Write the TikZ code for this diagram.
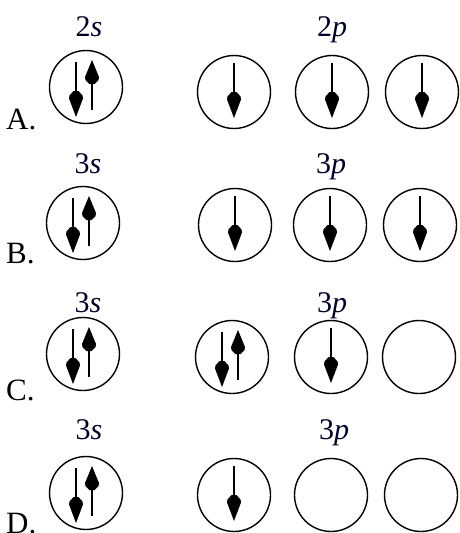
\documentclass[tikz,border=0pt]{standalone}
\usepackage{fontspec}
\setmainfont{Liberation Serif}
\begin{document}
\begin{tikzpicture}[x=1pt,y=-1pt,
  orb/.style={draw=black,line width=1.4pt,circle,minimum size=73pt,inner sep=0pt},
  lbl/.style={font=\fontsize{30}{36}\selectfont,inner sep=0pt,anchor=base,text=black!85!blue},
  opt/.style={font=\fontsize{31}{36}\selectfont,inner sep=0pt,anchor=base west},
  dnarr/.pic={\draw[line width=1.5pt] (0,-27.5)--(0,20);
    \fill (0,27.5)--(-7,9)--(-6.5,6)--(-2.5,1.5)--(2.5,1.5)--(6.5,6)--(7,9)--cycle;},
  uparr/.pic={\draw[line width=1.5pt] (0,25)--(0,-18);
    \fill (0,-25)--(-7,-8)--(-6.5,-5)--(-2.5,-1)--(2.5,-1)--(6.5,-5)--(7,-8)--cycle;}]
\useasboundingbox (0,0) rectangle (460,533);
\clip (0,0) rectangle (460,533);
% Row A
\node[lbl] (la) at (89,36) {2\textit{s}};
\node[lbl] (lap) at (332,36) {2\textit{p}};
\node[opt] (oa) at (6,129) {A.};
\node[orb] (as) at (86,87) {};
\node[orb] (ap1) at (234,92) {};
\node[orb] (ap2) at (332,92) {};
\node[orb] (ap3) at (422,92) {};
\pic at (76,89.5) {dnarr}; \pic at (92,85) {uparr};
\pic at (234,90.5) {dnarr}; \pic at (332,90.5) {dnarr}; \pic at (422,90.5) {dnarr};
% Row B
\node[lbl] (lb) at (88,173) {3\textit{s}};
\node[lbl] (lbp) at (331,173) {3\textit{p}};
\node[opt] (ob) at (6,263) {B.};
\node[orb] (bs) at (83,223) {};
\node[orb] (bp1) at (235,225) {};
\node[orb] (bp2) at (330,225) {};
\node[orb] (bp3) at (420,225) {};
\pic at (73,225.5) {dnarr}; \pic at (89,221) {uparr};
\pic at (235,223.5) {dnarr}; \pic at (330,223.5) {dnarr}; \pic at (420,223.5) {dnarr};
% Row C
\node[lbl] (lc) at (88,312) {3\textit{s}};
\node[lbl] (lcp) at (332,312) {3\textit{p}};
\node[opt] (oc) at (6,400) {C.};
\node[orb] (cs) at (83,354) {};
\node[orb] (cp1) at (232,357) {};
\node[orb] (cp2) at (331,357) {};
\node[orb] (cp3) at (419,357) {};
\pic at (73,356.5) {dnarr}; \pic at (89,352) {uparr};
\pic at (222,359.5) {dnarr}; \pic at (238,355) {uparr};
\pic at (331,355.5) {dnarr};
% Row D
\node[lbl] (ld) at (89,439) {3\textit{s}};
\node[lbl] (ldp) at (334,439) {3\textit{p}};
\node[opt] (od) at (6,533) {D.};
\node[orb] (ds) at (86,493) {};
\node[orb] (dp1) at (234,495) {};
\node[orb] (dp2) at (331,495) {};
\node[orb] (dp3) at (421,495) {};
\pic at (76,495.5) {dnarr}; \pic at (92,491) {uparr};
\pic at (234,493.5) {dnarr};
\end{tikzpicture}
\end{document}
